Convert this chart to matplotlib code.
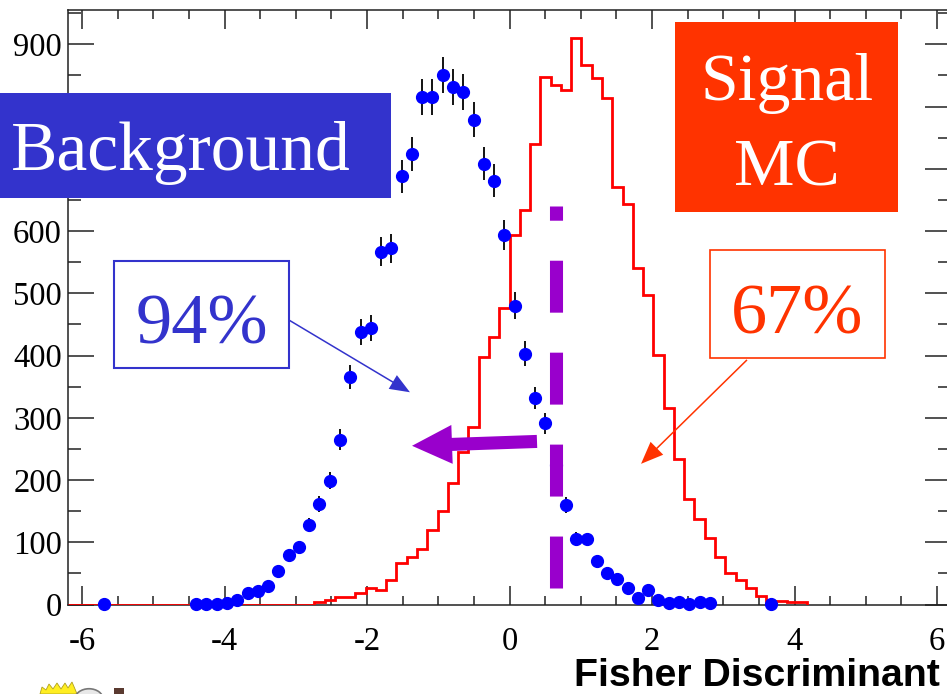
import numpy as np
import matplotlib
matplotlib.use("Agg")
import matplotlib.pyplot as plt
from matplotlib.patches import Rectangle, FancyArrowPatch, Polygon, Circle, ArrowStyle
from matplotlib.ticker import MultipleLocator

plt.rcParams['lines.scale_dashes'] = False
plt.rcParams['axes.unicode_minus'] = False
plt.rcParams['font.family'] = ['Liberation Serif', 'DejaVu Serif']

W, H = 947, 694

# ---------------- data ----------------
x_lo, x_hi, n_bins = -6.2, 6.2, 86
y_max = 956

# Signal MC histogram contents (bins 0..71 of the 86-bin axis)
signal_mc = [0, 0, 0, 0, 0, 0, 0, 0, 0, 0,
             0, 0, 0, 0, 0, 0, 0, 0, 0, 0,
             0, 0, 0, 0, 4, 8, 12, 12, 18, 27,
             23, 39, 67, 76, 89, 120, 150, 195, 245, 285,
             397, 430, 476, 594, 634, 740, 847, 834, 826, 910,
             867, 846, 814, 671, 643, 540, 497, 401, 315, 233,
             169, 137, 107, 76, 51, 39, 26, 14, 6, 6,
             4, 4]

# Background data (86 bins, empty bins = 0 are not drawn)
background = [0, 0, 0, 1, 0, 0, 0, 0, 0, 0,
              0, 0, 1, 1, 1, 3, 8, 18, 22, 30,
              54, 80, 92, 127, 161, 199, 265, 365, 438, 444,
              567, 572, 688, 724, 815, 815, 851, 831, 824, 779,
              708, 681, 594, 480, 403, 332, 291, 224, 160, 106,
              105, 70, 51, 41, 26, 11, 23, 8, 3, 4,
              1, 4, 2, 0, 0, 0, 0, 0, 1, 0,
              0, 0, 0, 0, 0, 0, 0, 0, 0, 0,
              0, 0, 0, 0, 0, 0]

x_ticks = [-6, -4, -2, 0, 2, 4, 6]
y_ticks = [0, 100, 200, 300, 400, 500, 600, 700, 800, 900]
# labels 700 and 800 are hidden behind the "Background" box in the original
y_tick_labels = ['0', '100', '200', '300', '400', '500', '600', '', '', '900']

cut_value = 0.653
cut_span = (26, 641)

# ---------------- figure ----------------
fig = plt.figure(figsize=(W / 100, H / 100), dpi=100)
ax = fig.add_axes([67.75 / W, (H - 604.5) / H, 883.5 / W, 595 / H])
ax.set_xlim(x_lo, x_hi)
ax.set_ylim(0, y_max)

edges = np.linspace(x_lo, x_hi, n_bins + 1)
centers = 0.5 * (edges[:-1] + edges[1:])

sig = np.array(signal_mc, float)
ax.stairs(sig, edges[:len(sig) + 1], color='#FF0000', lw=2.0, zorder=3)

bkg = np.array(background, float)
m = bkg > 0
ax.errorbar(centers[m], bkg[m], yerr=np.sqrt(bkg[m]), fmt='o', ms=8.5,
            mfc='#0000FF', mec='#0000FF', ecolor='black', elinewidth=1.3,
            capsize=0, zorder=4, clip_on=False)

# purple dashed cut line
ax.plot([cut_value, cut_value], cut_span, color='#9900CC', lw=9.4,
        dashes=(37.4, 28.8), dash_capstyle='butt', solid_capstyle='butt', zorder=5)

# purple arrow
ax.add_patch(FancyArrowPatch((0.386, 262), (-1.368, 255),
                             arrowstyle=ArrowStyle.Simple(head_length=28.8, head_width=28, tail_width=9.4),
                             mutation_scale=1, color='#9900CC', lw=0, shrinkA=0, shrinkB=0, zorder=6))
# blue arrow
ax.add_patch(FancyArrowPatch((-3.095, 457), (-1.397, 341),
                             arrowstyle=ArrowStyle.Simple(head_length=14.4, head_width=11.5, tail_width=1.1),
                             mutation_scale=1, color='#3333CC', lw=0, shrinkA=0, shrinkB=0, zorder=6,
                             clip_on=False))
# red arrow
ax.add_patch(FancyArrowPatch((3.333, 393), (1.846, 226),
                             arrowstyle=ArrowStyle.Simple(head_length=16, head_width=13, tail_width=1.1),
                             mutation_scale=1, color='#FF3300', lw=0, shrinkA=0, shrinkB=0, zorder=6))

# axes styling
ax.set_xticks(x_ticks)
ax.set_xticklabels([str(v) for v in x_ticks])
ax.set_yticks(y_ticks)
ax.set_yticklabels(y_tick_labels)
ax.xaxis.set_minor_locator(MultipleLocator(0.5))
ax.yaxis.set_minor_locator(MultipleLocator(50))
axc = '#222222'
ax.tick_params(axis='x', which='major', direction='in', length=13.7, width=1.1, top=True,
               bottom=True, labelsize=23.5, pad=15.5, color=axc)
ax.tick_params(axis='x', which='minor', direction='in', length=6.5, width=1.1, top=True,
               bottom=True, color=axc)
ax.tick_params(axis='y', which='major', direction='in', length=18.5, width=1.1, left=True,
               right=True, labelsize=23.5, pad=4.2, color=axc)
ax.tick_params(axis='y', which='minor', direction='in', length=9.4, width=1.1, left=True,
               right=True, color=axc)
for s in ax.spines.values():
    s.set_linewidth(1.1)
    s.set_color(axc)


def px_rect(x0, y0, x1, y1, **kw):
    r = Rectangle((x0 / W, 1 - y1 / H), (x1 - x0) / W, (y1 - y0) / H,
                  transform=fig.transFigure, **kw)
    fig.add_artist(r)


def px_text(x, y, s, **kw):
    fig.text(x / W, 1 - y / H, s, **kw)


# Background label box
px_rect(0, 93, 391, 198, facecolor='#3333CC', edgecolor='none', zorder=5)
px_text(181, 170, 'Background', color='white', fontsize=50, ha='center', va='baseline', zorder=6)

# Signal MC label box
px_rect(675, 22, 898, 212, facecolor='#FF3300', edgecolor='none', zorder=5)
px_text(787, 100, 'Signal', color='white', fontsize=49, ha='center', va='baseline', zorder=6)
px_text(787, 185, 'MC', color='white', fontsize=49, ha='center', va='baseline', zorder=6)

# 94% box
px_rect(114, 261, 289, 368, facecolor='white', edgecolor='#3333CC', lw=1.5, zorder=5)
px_text(201.5, 343, '94%', color='#3333CC', fontsize=52, ha='center', va='baseline', zorder=6)

# 67% box
px_rect(710, 250, 885, 358, facecolor='white', edgecolor='#FF3300', lw=1.2, zorder=5)
px_text(797.5, 333, '67%', color='#FF3300', fontsize=52, ha='center', va='baseline', zorder=6)

# x axis title
px_text(940, 686, 'Fisher Discriminant', color='black', fontsize=28.3, ha='right',
        va='baseline', family=['Liberation Sans', 'DejaVu Sans'], fontweight='bold')

# small logo fragment at bottom left
star = [(40, 694), (42, 687), (46, 690), (49, 684), (53, 689), (57, 683), (61, 689),
        (65, 683), (68, 688), (72, 682), (75, 689), (77, 694)]
fig.add_artist(Polygon([(x / W, 1 - y / H) for x, y in star], closed=True,
                       transform=fig.transFigure, facecolor='#FFEE22', edgecolor='#B0A020', lw=0.6))
fig.add_artist(Circle((89 / W, 1 - 699 / H), 14 / W, transform=fig.transFigure,
                      facecolor='#E8E8E8', edgecolor='#777777', lw=1.2))
fig.add_artist(Rectangle((114 / W, 0), 10 / W, 6 / H, transform=fig.transFigure,
                         facecolor='#5A3A30', edgecolor='none'))

fig.savefig('out.png', dpi=100)
